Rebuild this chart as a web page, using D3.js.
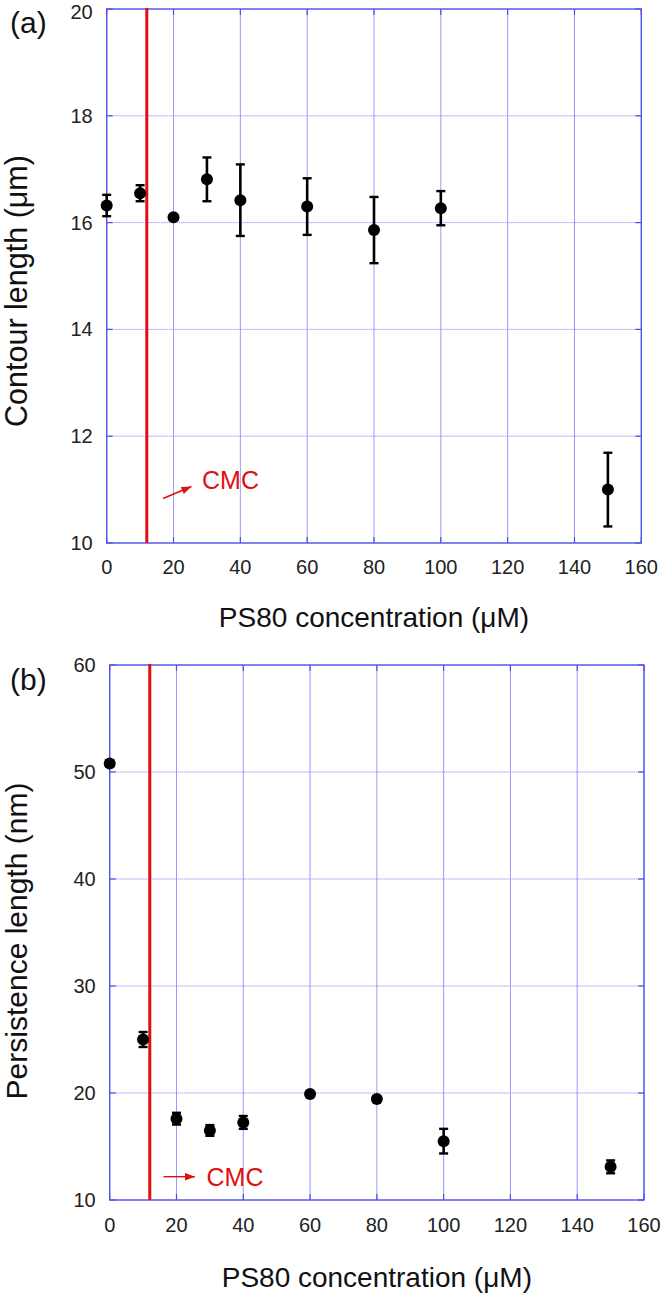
<!DOCTYPE html>
<html>
<head>
<meta charset="utf-8">
<script src="https://cdn.jsdelivr.net/npm/d3@7"></script>
<style>
  body { margin: 0; background: #fff; }
  text { font-family: "Liberation Sans", Arial, sans-serif; }
</style>
</head>
<body>
<svg width="661" height="1295"></svg>
<script>
// concentrations (uM)
var conc = [0, 10, 20, 30, 40, 60, 80, 100, 150];

// panel (a) contour length (um)
var contour = [16.32, 16.55, 16.10, 16.81, 16.42, 16.30, 15.86, 16.27, 11.0];
var contourErr = [0.2, 0.15, 0.03, 0.41, 0.67, 0.53, 0.62, 0.32, 0.69];

// panel (b) persistence length (nm)
var persist = [50.8, 25.0, 17.6, 16.5, 17.25, 19.9, 19.45, 15.5, 13.1];
var persistErr = [0.3, 0.7, 0.55, 0.5, 0.6, 0.2, 0.2, 1.15, 0.6];

var xTicks = [0, 20, 40, 60, 80, 100, 120, 140, 160];
var yTicksA = [10, 12, 14, 16, 18, 20];
var yTicksB = [10, 20, 30, 40, 50, 60];
var cmc = 12;

var svg = d3.select("svg");

function panel(opt) {
    var g = svg.append("g");
    var x = d3.scaleLinear().domain([0, 160]).range([opt.left, opt.right]);
    var y = d3.scaleLinear().domain(opt.yDomain).range([opt.bottom, opt.top]);

    // grid
    g.selectAll(".vg").data(xTicks).enter().append("line")
        .attr("x1", d => x(d)).attr("x2", d => x(d))
        .attr("y1", opt.top).attr("y2", opt.bottom)
        .style("stroke", "#9a9aff").style("stroke-width", 1);
    g.selectAll(".hg").data(opt.yTicks).enter().append("line")
        .attr("x1", opt.left).attr("x2", opt.right)
        .attr("y1", d => y(d)).attr("y2", d => y(d))
        .style("stroke", "#7f7ff0").style("stroke-width", 1)
        .style("stroke-dasharray", "1,1");

    // inward ticks
    g.selectAll(".tt").data(xTicks).enter().append("line")
        .attr("x1", d => x(d)).attr("x2", d => x(d))
        .attr("y1", opt.top).attr("y2", opt.top + 6)
        .style("stroke", "#4d4df0").style("stroke-width", 1.2);
    g.selectAll(".bt").data(xTicks).enter().append("line")
        .attr("x1", d => x(d)).attr("x2", d => x(d))
        .attr("y1", opt.bottom).attr("y2", opt.bottom - 6)
        .style("stroke", "#4d4df0").style("stroke-width", 1.2);
    g.selectAll(".lt").data(opt.yTicks).enter().append("line")
        .attr("x1", opt.left).attr("x2", opt.left + 6)
        .attr("y1", d => y(d)).attr("y2", d => y(d))
        .style("stroke", "#4d4df0").style("stroke-width", 1.2);
    g.selectAll(".rt").data(opt.yTicks).enter().append("line")
        .attr("x1", opt.right).attr("x2", opt.right - 6)
        .attr("y1", d => y(d)).attr("y2", d => y(d))
        .style("stroke", "#4d4df0").style("stroke-width", 1.2);

    // frame
    g.append("rect")
        .attr("x", opt.left).attr("y", opt.top)
        .attr("width", opt.right - opt.left).attr("height", opt.bottom - opt.top)
        .style("fill", "none").style("stroke", "#5050f0").style("stroke-width", 1.3);

    // tick labels
    g.selectAll(".xl").data(xTicks).enter().append("text")
        .attr("x", d => x(d)).attr("y", opt.bottom + opt.xlDy)
        .attr("text-anchor", "middle")
        .style("font-size", "20px").style("fill", "#222")
        .text(d => d);
    g.selectAll(".yl").data(opt.yTicks).enter().append("text")
        .attr("x", opt.left - 14).attr("y", d => Math.max(y(d) + 7, 18.5))
        .attr("text-anchor", "end")
        .style("font-size", "20px").style("fill", "#222")
        .text(d => d);

    // axis titles
    g.append("text")
        .attr("x", (opt.left + opt.right) / 2).attr("y", opt.bottom + opt.xtDy)
        .attr("text-anchor", "middle")
        .style("font-size", "28px").style("fill", "#111")
        .text("PS80 concentration (\u03bcM)");
    g.append("text")
        .attr("transform", "translate(" + 27 + "," + opt.ytMid + ") rotate(-90)")
        .attr("text-anchor", "middle")
        .style("font-size", opt.ytSize + "px").style("fill", "#111")
        .text(opt.yTitle);

    // panel letter
    g.append("text")
        .attr("x", 10).attr("y", opt.top + opt.letterDy)
        .style("font-size", "30px").style("fill", "#111")
        .text(opt.letter);

    // CMC line
    g.append("line")
        .attr("x1", x(cmc)).attr("x2", x(cmc))
        .attr("y1", opt.top - 1).attr("y2", opt.bottom)
        .style("stroke", "#e01010").style("stroke-width", 3);

    // CMC arrow and label
    var a = opt.arrow;
    g.append("line")
        .attr("x1", a[0]).attr("y1", a[1]).attr("x2", a[2]).attr("y2", a[3])
        .style("stroke", "#e01010").style("stroke-width", 1.4);
    var ang = Math.atan2(a[3] - a[1], a[2] - a[0]) * 180 / Math.PI;
    g.append("path")
        .attr("d", "M0,0 L-10,-3.8 L-10,3.8 Z")
        .attr("transform", "translate(" + a[2] + "," + a[3] + ") rotate(" + ang + ")")
        .style("fill", "#e01010");
    g.append("text")
        .attr("x", opt.cmcText[0]).attr("y", opt.cmcText[1])
        .style("font-size", "25px").style("fill", "#e01010")
        .text("CMC");

    // error bars
    var pts = opt.values.map((v, i) => ({x: conc[i], y: v, e: opt.errs[i]}));
    g.selectAll(".eb").data(pts).enter().append("line")
        .attr("x1", d => x(d.x)).attr("x2", d => x(d.x))
        .attr("y1", d => y(d.y - d.e)).attr("y2", d => y(d.y + d.e))
        .style("stroke", "#000").style("stroke-width", 2.6);
    g.selectAll(".ct").data(pts).enter().append("line")
        .attr("x1", d => x(d.x) - 4.5).attr("x2", d => x(d.x) + 4.5)
        .attr("y1", d => y(d.y + d.e)).attr("y2", d => y(d.y + d.e))
        .style("stroke", "#000").style("stroke-width", 2.4);
    g.selectAll(".cb").data(pts).enter().append("line")
        .attr("x1", d => x(d.x) - 4.5).attr("x2", d => x(d.x) + 4.5)
        .attr("y1", d => y(d.y - d.e)).attr("y2", d => y(d.y - d.e))
        .style("stroke", "#000").style("stroke-width", 2.4);

    // points
    g.selectAll(".pt").data(pts).enter().append("circle")
        .attr("cx", d => x(d.x)).attr("cy", d => y(d.y))
        .attr("r", 6)
        .style("fill", "#000");
}

panel({
    left: 106.7, right: 641.3, top: 9, bottom: 543,
    yDomain: [10, 20], yTicks: yTicksA,
    values: contour, errs: contourErr,
    yTitle: "Contour length (\u03bcm)", ytSize: 30.5, ytMid: 291,
    letter: "(a)", letterDy: 24, xlDy: 31, xtDy: 84,
    arrow: [163, 498.5, 191.5, 486.5], cmcText: [202, 489]
});

panel({
    left: 109.7, right: 644, top: 665, bottom: 1200,
    yDomain: [10, 60], yTicks: yTicksB,
    values: persist, errs: persistErr,
    yTitle: "Persistence length (nm)", ytSize: 30, ytMid: 941,
    letter: "(b)", letterDy: 25, xlDy: 32, xtDy: 87,
    arrow: [163.5, 1176.7, 195, 1176.7], cmcText: [206.5, 1186]
});
</script>
</body>
</html>
